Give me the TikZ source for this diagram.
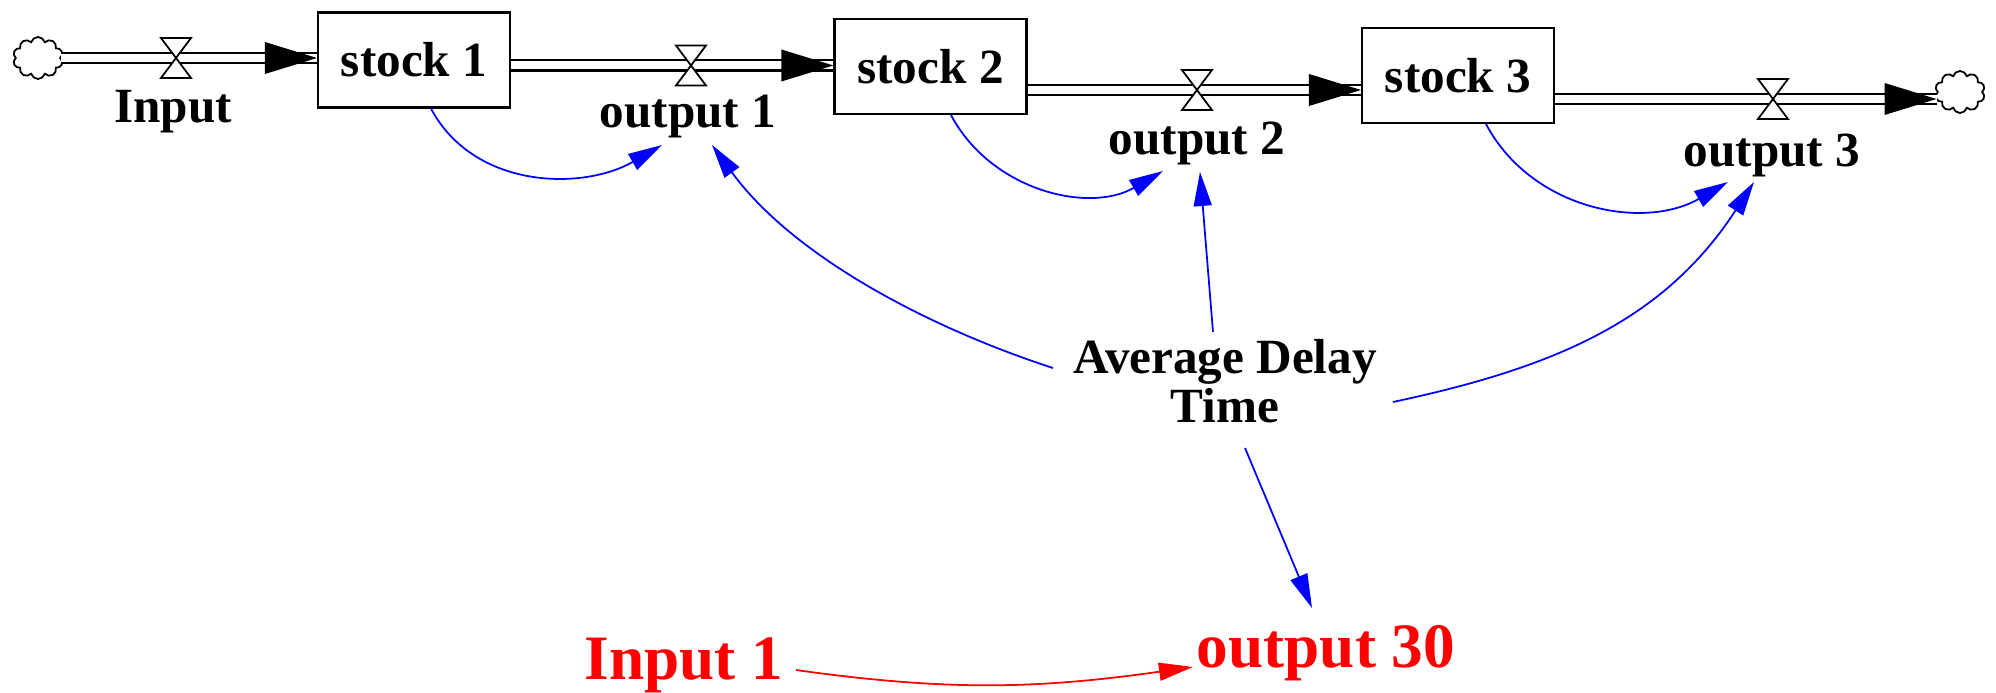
\documentclass[tikz,border=0pt]{standalone}
\usepackage{fontspec}
\setmainfont{Liberation Serif}
\usepackage{tikz}
\usetikzlibrary{arrows.meta, positioning, shapes.symbols}

\begin{document}
\begin{tikzpicture}[
        stockbox/.style={draw, line width=0.6pt, minimum width=1.92cm, minimum height=0.95cm, inner sep=0pt, font=\fontsize{14}{16}\selectfont\bfseries},
        lbl/.style={anchor=base, inner sep=0pt, font=\fontsize{14}{16}\selectfont\bfseries},
        redlbl/.style={anchor=base, inner sep=0pt, text=red, font=\fontsize{18}{20}\selectfont\bfseries},
        sink/.style={cloud, cloud puffs=10, cloud ignores aspect, draw, line width=0.5pt, minimum width=0.50cm, minimum height=0.42cm, inner sep=0pt},
        pipe/.style={double, double distance=0.08cm, line width=0.6pt},
        valveshape/.style={draw, fill=white, line width=0.5pt},
        link/.style={blue, line width=0.5pt, -{Triangle[length=0.34cm, width=0.18cm]}},
        redlink/.style={red, line width=0.5pt, -{Triangle[length=0.34cm, width=0.18cm]}}
    ]
        \useasboundingbox (0,0) rectangle (19.96,-6.93);

        % sources, sinks and stocks
        \node[sink] (srcL) at (0.38,-0.58) {};
        \node[stockbox] (stock1) at (4.14,-0.60) {stock 1};
        \node[stockbox] (stock2) at (9.305,-0.665) {stock 2};
        \node[stockbox] (stock3) at (14.58,-0.755) {stock 3};
        \node[sink] (sinkR) at (19.60,-0.92) {};

        % valves on the flows
        \coordinate (vIn) at (1.76,-0.58);
        \coordinate (v1) at (6.91,-0.655);
        \coordinate (v2) at (11.97,-0.90);
        \coordinate (v3) at (17.73,-0.99);

        % flows
        \foreach \a/\v/\b in {srcL.east/vIn/stock1.west, stock1.east/v1/stock2.west, stock2.east/v2/stock3.west, stock3.east/v3/sinkR.west} {
            \draw[pipe] (\v -| \a) -- (\v -| \b);
            \fill (\v -| \b) -- ++(-0.52,0.16) -- ++(0,-0.32) -- cycle;
            \draw[valveshape] (\v) -- ++(-0.15,0.2) -- ++(0.30,0) -- cycle;
            \draw[valveshape] (\v) -- ++(-0.15,-0.2) -- ++(0.30,0) -- cycle;
        }

        % flow names
        \node[lbl] (inLbl) at (1.73,-1.23) {Input};
        \node[lbl] (out1) at (6.88,-1.28) {output 1};
        \node[lbl] (out2) at (11.97,-1.55) {output 2};
        \node[lbl] (out3) at (17.72,-1.67) {output 3};

        % auxiliaries
        \node[inner sep=0pt, align=center, font=\fontsize{14}{12.8}\selectfont\bfseries] (delay) at (12.25,-3.81) {Average Delay\\Time};
        \node[redlbl] (in1) at (6.84,-6.80) {Input 1};
        \node[redlbl] (out30) at (13.26,-6.68) {output 30};

        % stock to outflow links
        \draw[link] ([xshift=0.17cm]stock1.south) to[out=-62,in=210] ([shift={(-0.26,-0.17)}]out1.base);
        \draw[link] ([xshift=0.205cm]stock2.south) to[out=-62,in=210] ([shift={(-0.34,-0.16)}]out2.base);
        \draw[link] ([xshift=0.28cm]stock3.south) to[out=-62,in=210] ([shift={(-0.44,-0.15)}]out3.base);

        % delay time links
        \draw[link] ([shift={(-1.72,0.13)}]delay.center) to[out=162,in=-54,looseness=0.85] ([shift={(0.24,-0.17)}]out1.base);
        \draw[link] ([shift={(-0.12,0.49)}]delay.center) -- ([shift={(0.03,-0.17)}]out2.base);
        \draw[link] ([shift={(1.68,-0.21)}]delay.center) to[out=12,in=237] ([shift={(-0.18,-0.15)}]out3.base);
        \draw[link] ([shift={(0.20,-0.67)}]delay.center) -- ([shift={(-0.14,0.60)}]out30.base);

        % red link
        \draw[redlink] ([shift={(1.12,0.10)}]in1.base) to[out=-8,in=188] ([shift={(-1.33,0.01)}]out30.base);
    \end{tikzpicture}
\end{document}
